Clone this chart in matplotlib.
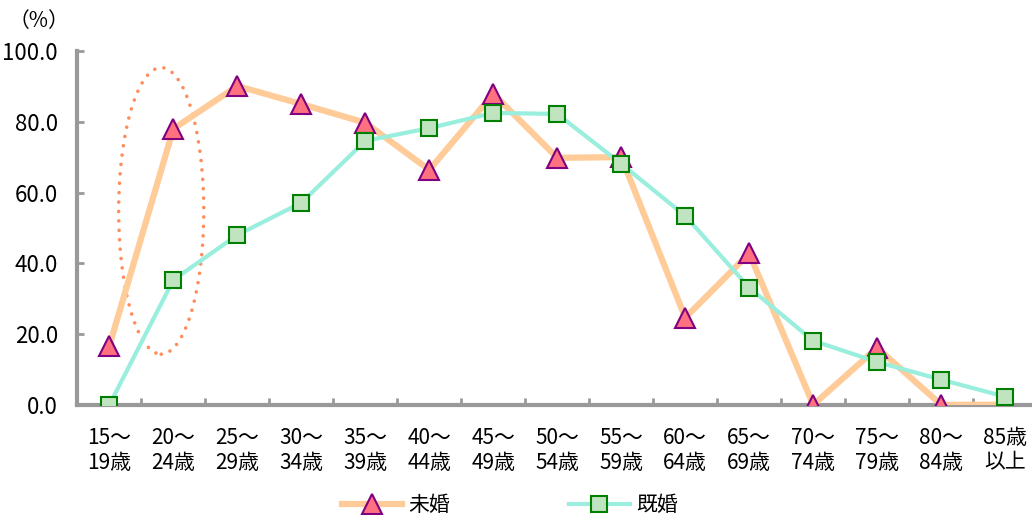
import matplotlib.pyplot as plt
from matplotlib.patches import Ellipse

plt.rcParams['font.family'] = ['Noto Sans CJK JP', 'DejaVu Sans']

# 年齢階級
age_groups = ["15～\n19歳", "20～\n24歳", "25～\n29歳", "30～\n34歳", "35～\n39歳",
              "40～\n44歳", "45～\n49歳", "50～\n54歳", "55～\n59歳", "60～\n64歳",
              "65～\n69歳", "70～\n74歳", "75～\n79歳", "80～\n84歳", "85歳\n以上"]

# 割合（%）
unmarried = [16.7, 78.0, 90.1, 85.0, 79.7, 66.4, 87.9, 69.8, 70.0, 24.6,
             42.8, 0.0, 16.1, 0.0, 0.0]
married = [0.0, 35.3, 48.0, 57.1, 74.6, 78.2, 82.5, 82.2, 68.1, 53.4,
           33.1, 18.1, 12.1, 7.1, 2.3]

yticks = [0, 20, 40, 60, 80, 100]

fig = plt.figure(figsize=(10.32, 5.15), dpi=100)
ax = fig.add_axes([0.075, 0.214, 0.93, 0.687])

x = range(len(age_groups))
ax.plot(x, unmarried, color='#FFCC99', lw=4.5, marker='^', markersize=14,
        markerfacecolor='#FF7080', markeredgecolor='#800080', markeredgewidth=1.5,
        label='未婚', zorder=3)
ax.plot(x, married, color='#99EEDD', lw=3, marker='s', markersize=12,
        markerfacecolor='#C0E4C0', markeredgecolor='#008000', markeredgewidth=1.5,
        label='既婚', zorder=4)

# 20～24歳を囲む点線の楕円
circle = Ellipse((0.81, 54.8), 1.33, 81, fill=False, edgecolor='#FF8C5A',
                 lw=2.6, linestyle=(0, (0.01, 2.6)), zorder=2)
circle.set_capstyle('round')
ax.add_patch(circle)

ax.set_xlim(-0.5, 14.5)
ax.set_ylim(0, 100)
ax.set_yticks(yticks)
ax.set_yticklabels([f"{v:.1f}" for v in yticks], fontsize=16)
ax.set_xticks(x)
ax.set_xticklabels(age_groups, fontsize=15, linespacing=1.15)
ax.set_xticks([i + 0.5 for i in range(len(age_groups) - 1)], minor=True)
ax.tick_params(axis='x', which='major', length=0, pad=16)
ax.tick_params(axis='x', which='minor', direction='in', length=5, width=2, color='#999999')
ax.tick_params(axis='y', direction='in', length=5, width=2, color='#999999', pad=14)

for s in ['top', 'right']:
    ax.spines[s].set_visible(False)
for s in ['left', 'bottom']:
    ax.spines[s].set_color('#999999')
    ax.spines[s].set_linewidth(3)
ax.spines['left'].set_zorder(1)

fig.text(0.008, 0.96, '（%）', fontsize=15, va='center')

fig.legend(loc='lower center', bbox_to_anchor=(0.494, -0.038), ncol=2, frameon=False,
           fontsize=15, handlelength=2.9, handletextpad=0.3, columnspacing=5.7)

fig.savefig('out.png', dpi=100)
